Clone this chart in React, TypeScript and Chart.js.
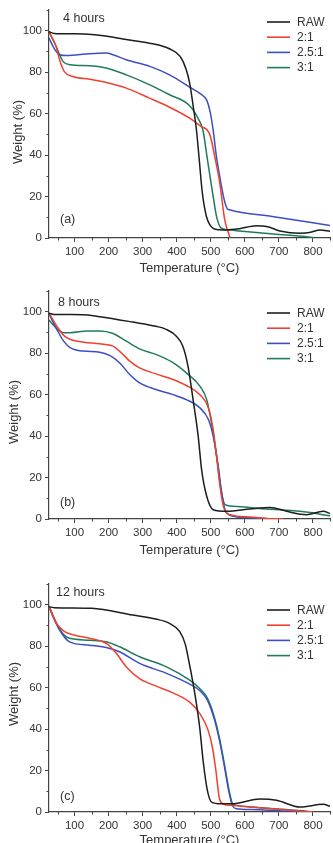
import React, { useEffect, useRef } from "react";
import { Chart, registerables } from "chart.js";

Chart.register(...registerables);

// ---- shared look ----
const FONT = '"Liberation Sans", Arial, Helvetica, sans-serif';
const TEXT = "#333333";
const AXIS = "#444444";
const SERIES_LABELS = ["RAW", "2:1", "2.5:1", "3:1"];
const SERIES_COLORS = ["#1d1d1d", "#f0402e", "#3b4fc2", "#1f7b5d"];
const X_TICKS = [100, 200, 300, 400, 500, 600, 700, 800];
const X_MINOR = [50, 150, 250, 350, 450, 550, 650, 750, 850];
const Y_TICKS = [0, 20, 40, 60, 80, 100];
const Y_MINOR = [10, 30, 50, 70, 90, 110];
const X_MIN = 25;
const X_MAX = 850;
const Y_MIN = 0;
const Y_MAX = 110;

// ---- (a) 4 hours ----
const RAW_A_T = [25, 40, 100, 150, 200, 242, 280, 320, 350, 380, 410, 428, 438, 448, 458, 466, 475, 487, 497, 507, 525, 546, 585, 634, 664, 703, 762, 790, 821, 850];
const RAW_A_W = [99.5, 98.7, 98.5, 98.2, 97.2, 96, 95, 94, 93, 91.2, 87.6, 81.2, 74.7, 64, 52, 38, 22, 10.5, 6.5, 4.7, 4, 3.9, 4.5, 5.9, 5.6, 3.4, 2.3, 2.6, 3.9, 3.2];
const R21_A_T = [25, 46, 56, 70, 95, 144, 193, 252, 320, 379, 438, 470, 497, 512, 526, 541, 556];
const R21_A_W = [99.4, 92.4, 86, 80.3, 77.9, 76.6, 75, 72.3, 67.5, 63.1, 57.8, 54, 50, 39, 27, 8.7, 0.3];
const R25_A_T = [25, 40, 56, 76, 144, 193, 213, 252, 321, 379, 438, 470, 488, 498, 507, 516, 528, 540, 548, 555, 685, 850];
const R25_A_W = [96.5, 91.5, 88.4, 88, 88.9, 89.2, 88.4, 86, 82.8, 78.7, 72.8, 69.5, 66.5, 61, 52, 40, 28, 18, 14.2, 13.6, 10.3, 6];
const R31_A_T = [25, 46, 66, 86, 144, 193, 252, 321, 379, 438, 465, 477, 490, 507, 517, 531, 560, 585, 683, 781, 800];
const R31_A_W = [99.7, 92.4, 85.2, 83.6, 83.1, 82, 78.7, 73.9, 69.1, 63.8, 57, 52, 38, 20, 10.3, 4.7, 3.8, 3.4, 1.9, 0.6, 0.2];

// ---- (b) 8 hours ----
const RAW_B_T = [25, 40, 124, 174, 271, 339, 369, 399, 418, 433, 448, 463, 473, 488, 507, 547, 615, 674, 723, 781, 830, 850];
const RAW_B_W = [99.3, 98.7, 98.6, 97.6, 95, 93, 91.5, 88.2, 83.4, 73.8, 57.6, 40, 23.8, 11, 4.5, 3.7, 4.8, 5.6, 3.7, 2.1, 3.7, 2.6];
const R21_B_T = [25, 48, 68, 88, 127, 174, 213, 232, 262, 291, 339, 389, 428, 468, 493, 507, 517, 527, 537, 557, 615, 664, 713];
const R21_B_W = [99.5, 93, 88.6, 86.6, 85.3, 84.5, 83.4, 81, 76.2, 72.9, 70, 67.3, 64.4, 60, 53.6, 43.2, 30.3, 15.8, 6.1, 2.1, 1, 0.3, 0];
const R25_B_T = [25, 48, 68, 88, 127, 174, 203, 232, 262, 291, 339, 389, 428, 468, 493, 507, 522, 532, 542, 566, 615, 664];
const R25_B_W = [99, 91.5, 85.8, 82.6, 81, 80.5, 78.9, 75.4, 69.7, 65.7, 62.5, 60, 57.6, 53.6, 48, 40, 25.4, 12.6, 4.5, 1.3, 0.6, 0.2];
const R31_B_T = [25, 48, 68, 88, 137, 174, 213, 252, 291, 339, 389, 428, 468, 488, 502, 517, 530, 542, 566, 664, 762, 850];
const R31_B_W = [96, 91.8, 89.9, 89.9, 90.7, 90.7, 89.5, 85.8, 82.1, 79.4, 75.4, 70.5, 64.1, 57.6, 46.4, 30.3, 14.2, 6.9, 6.1, 4.8, 3.7, 1.6];

// ---- (c) 12 hours ----
const RAW_C_T = [25, 40, 150, 271, 339, 379, 409, 425, 433, 448, 458, 468, 478, 490, 502, 530, 566, 644, 693, 762, 830, 850];
const RAW_C_W = [99, 98.6, 98.3, 95, 93.1, 91, 87, 81, 75, 62, 52, 40, 24, 10.4, 4.8, 4, 4, 6.3, 5.7, 2.4, 3.7, 2.7];
const R21_C_T = [25, 48, 71, 95, 144, 193, 223, 252, 291, 340, 389, 438, 468, 492, 505, 515, 526, 540, 560, 615, 732, 801];
const R21_C_W = [99, 90.7, 87, 85.5, 83.8, 81.3, 76.5, 70, 64.4, 60.7, 57.5, 53, 47.5, 39.5, 31, 20, 6, 3.6, 3.2, 2.4, 0.8, 0];
const R25_C_T = [25, 40, 56, 85, 144, 193, 232, 291, 370, 438, 468, 490, 510, 525, 540, 553, 564, 575, 620, 700, 780];
const R25_C_W = [99, 93, 87.8, 82.1, 80.5, 79.4, 77.3, 71.7, 66.9, 61.7, 58.5, 54, 45, 35, 22, 10, 3, 1.6, 1.2, 0.6, 0];
const R31_C_T = [25, 48, 68, 85, 144, 193, 232, 291, 370, 438, 468, 490, 510, 525, 540, 553, 564, 575, 620, 712, 780, 800];
const R31_C_W = [99.5, 90.7, 85.6, 83.8, 82.9, 82.1, 79.7, 74.9, 70, 63.6, 59.5, 55, 46, 36, 23, 11, 4, 3.2, 2.4, 1.3, 0.4, 0];

type Curve = [number[], number[]];

interface PanelSpec {
  top: number; // canvas offset on the page
  height: number; // canvas height
  areaTop: number; // plot area top within canvas
  areaBottom: number; // plot area bottom within canvas
  hours: string;
  hoursX: number;
  hoursY: number;
  tag: string;
  tagY: number;
  legendY: number;
  yTitleX: number;
  yTitleY: number;
  xTitleY: number;
  curves: Curve[];
}

const PANELS: PanelSpec[] = [
  {
    top: 0, height: 280, areaTop: 10, areaBottom: 238,
    hours: "4 hours", hoursX: 63, hoursY: 19,
    tag: "(a)", tagY: 220, legendY: 22,
    yTitleX: 18, yTitleY: 132, xTitleY: 268,
    curves: [[RAW_A_T, RAW_A_W], [R21_A_T, R21_A_W], [R25_A_T, R25_A_W], [R31_A_T, R31_A_W]],
  },
  {
    top: 280, height: 290, areaTop: 11, areaBottom: 239,
    hours: "8 hours", hoursX: 58, hoursY: 23,
    tag: "(b)", tagY: 223, legendY: 33,
    yTitleX: 14, yTitleY: 132, xTitleY: 270,
    curves: [[RAW_B_T, RAW_B_W], [R21_B_T, R21_B_W], [R25_B_T, R25_B_W], [R31_B_T, R31_B_W]],
  },
  {
    top: 570, height: 273, areaTop: 14, areaBottom: 242,
    hours: "12 hours", hoursX: 56, hoursY: 23,
    tag: "(c)", tagY: 227, legendY: 40,
    yTitleX: 14, yTitleY: 124, xTitleY: 270,
    curves: [[RAW_C_T, RAW_C_W], [R21_C_T, R21_C_W], [R25_C_T, R25_C_W], [R31_C_T, R31_C_W]],
  },
];

// Minor ticks, axis titles, in-plot labels and the legend.
function decorPlugin(spec: PanelSpec) {
  return {
    id: "panelDecor",
    afterDraw(chart: any) {
      const ctx = chart.ctx as CanvasRenderingContext2D;
      const xs = chart.scales.x;
      const ys = chart.scales.y;
      const area = chart.chartArea;
      ctx.save();

      // minor ticks
      ctx.strokeStyle = AXIS;
      ctx.lineWidth = 1;
      ctx.beginPath();
      X_MINOR.forEach((v) => {
        const px = Math.round(xs.getPixelForValue(v)) + 0.5;
        ctx.moveTo(px, area.bottom);
        ctx.lineTo(px, area.bottom + 2.5);
      });
      Y_MINOR.forEach((v) => {
        const py = Math.round(ys.getPixelForValue(v)) + 0.5;
        ctx.moveTo(area.left, py);
        ctx.lineTo(area.left - 2.5, py);
      });
      ctx.stroke();

      ctx.fillStyle = TEXT;
      ctx.textBaseline = "middle";

      // axis titles
      ctx.font = `13px ${FONT}`;
      ctx.textAlign = "center";
      ctx.fillText("Temperature (°C)", (area.left + area.right) / 2, spec.xTitleY);
      ctx.save();
      ctx.translate(spec.yTitleX, spec.yTitleY);
      ctx.rotate(-Math.PI / 2);
      ctx.fillText("Weight (%)", 0, 0);
      ctx.restore();

      // panel captions
      ctx.textAlign = "left";
      ctx.font = `12.5px ${FONT}`;
      ctx.fillText(spec.hours, spec.hoursX, spec.hoursY);
      ctx.fillText(spec.tag, 60, spec.tagY);

      // legend
      ctx.font = `12px ${FONT}`;
      chart.data.datasets.forEach((ds: any, i: number) => {
        const y = spec.legendY + i * 15.2;
        ctx.strokeStyle = ds.borderColor;
        ctx.lineWidth = 1.6;
        ctx.beginPath();
        ctx.moveTo(267, y);
        ctx.lineTo(290, y);
        ctx.stroke();
        ctx.fillStyle = TEXT;
        ctx.fillText(ds.label, 297, y + 0.5);
      });

      ctx.restore();
    },
  };
}

function Panel({ spec }: { spec: PanelSpec }) {
  const ref = useRef<HTMLCanvasElement | null>(null);

  useEffect(() => {
    if (!ref.current) return;
    const chart = new Chart(ref.current, {
      type: "line",
      data: {
        datasets: spec.curves.map(([t, w], i) => ({
          label: SERIES_LABELS[i],
          data: t.map((x, k) => ({ x, y: w[k] })),
          borderColor: SERIES_COLORS[i],
          backgroundColor: SERIES_COLORS[i],
          borderWidth: 1.5,
          pointRadius: 0,
          fill: false,
          cubicInterpolationMode: "monotone" as const,
        })),
      },
      options: {
        animation: false,
        responsive: false,
        devicePixelRatio: 1,
        layout: { padding: { top: spec.areaTop, right: 3, left: 0, bottom: 0 } },
        plugins: { legend: { display: false }, tooltip: { enabled: false } },
        scales: {
          x: {
            type: "linear",
            min: X_MIN,
            max: X_MAX,
            afterBuildTicks: (s: any) => {
              s.ticks = X_TICKS.map((value) => ({ value }));
            },
            afterFit: (s: any) => {
              s.height = spec.height - spec.areaBottom;
            },
            grid: { drawOnChartArea: false, tickLength: 4, color: AXIS, lineWidth: 1 },
            border: { display: true, color: AXIS, width: 1.2 },
            ticks: {
              color: TEXT,
              font: { family: FONT, size: 11.5 },
              padding: 3,
              maxRotation: 0,
              autoSkip: false,
            },
          },
          y: {
            type: "linear",
            min: Y_MIN,
            max: Y_MAX,
            afterBuildTicks: (s: any) => {
              s.ticks = Y_TICKS.map((value) => ({ value }));
            },
            afterFit: (s: any) => {
              s.width = 49;
            },
            grid: { drawOnChartArea: false, tickLength: 4, color: AXIS, lineWidth: 1 },
            border: { display: true, color: AXIS, width: 1.2 },
            ticks: {
              color: TEXT,
              font: { family: FONT, size: 11.5 },
              padding: 3,
              autoSkip: false,
            },
          },
        },
      },
      plugins: [decorPlugin(spec)],
    });
    return () => chart.destroy();
  }, [spec]);

  return (
    <canvas
      ref={ref}
      width={333}
      height={spec.height}
      style={{ position: "absolute", left: 0, top: spec.top, width: 333, height: spec.height, display: "block" }}
    />
  );
}

export default function App() {
  return (
    <div style={{ position: "absolute", left: 0, top: 0, width: 333, height: 843, background: "#ffffff", overflow: "hidden" }}>
      {PANELS.map((p) => (
        <Panel key={p.tag} spec={p} />
      ))}
    </div>
  );
}
